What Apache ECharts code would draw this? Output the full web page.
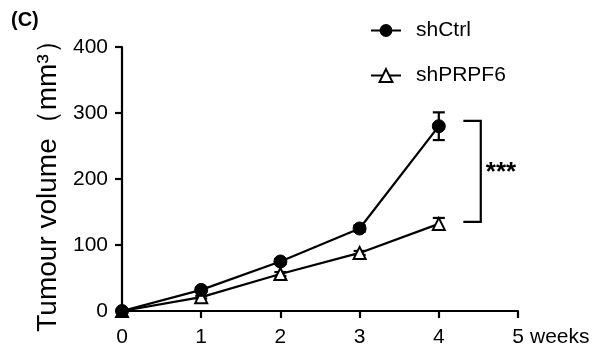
<!DOCTYPE html>
<html>
<head>
<meta charset="utf-8">
<script src="https://cdn.jsdelivr.net/npm/echarts@6/dist/echarts.min.js"></script>
<style>
html, body { margin: 0; padding: 0; background: #fff; }
#chart1 { width: 593px; height: 353px; }
</style>
</head>
<body>
<div id="chart1"></div>
<script>
// data
var weeks = [0, 1, 2, 3, 4];
var ctrlMean = [0, 32, 75, 125, 280];
var ctrlErr = [0, 3, 4, 5, 21];
var prpfMean = [0, 21, 56, 88, 132];
var prpfErr = [0, 2, 3, 3, 9];
var yTicks = [0, 100, 200, 300, 400];
var xTicks = [0, 1, 2, 3, 4, 5];
// significance bracket: x left, x right, y top, y bottom
var bracket = [4.31, 4.53, 288, 135];

var font = '"Liberation Sans", Arial, sans-serif';

function pairs(xs, ys) {
    return xs.map(function (x, i) { return [x, ys[i]]; });
}
function errData(xs, ys, es) {
    return xs.map(function (x, i) { return [x, ys[i] - es[i], ys[i] + es[i]]; });
}

function renderErr(params, api) {
    var lo = api.coord([api.value(0), api.value(1)]);
    var hi = api.coord([api.value(0), api.value(2)]);
    var w = 6;
    var st = { stroke: '#000', lineWidth: 2.2 };
    return {
        type: 'group',
        children: [
            { type: 'line', shape: { x1: hi[0], y1: hi[1], x2: lo[0], y2: lo[1] }, style: st },
            { type: 'line', shape: { x1: hi[0] - w, y1: hi[1], x2: hi[0] + w, y2: hi[1] }, style: st },
            { type: 'line', shape: { x1: lo[0] - w, y1: lo[1], x2: lo[0] + w, y2: lo[1] }, style: st }
        ]
    };
}

function renderBracket(params, api) {
    var a = api.coord([api.value(0), api.value(2)]);
    var b = api.coord([api.value(1), api.value(3)]);
    return {
        type: 'group',
        children: [
            {
                type: 'polyline',
                shape: { points: [[a[0], a[1]], [b[0], a[1]], [b[0], b[1]], [a[0], b[1]]] },
                style: { stroke: '#000', lineWidth: 2.2, fill: null }
            },
            {
                type: 'text',
                x: b[0] + 5,
                y: (a[1] + b[1]) / 2 + 1,
                style: { text: '***', fill: '#000', font: 'bold 26px ' + font, verticalAlign: 'middle', align: 'left' }
            }
        ]
    };
}

var chartDom = document.getElementById('chart1');
var myChart = echarts.init(chartDom);
var option;

option = {
    animation: false,
    backgroundColor: '#fff',
    title: {
        text: '(C)',
        left: 6,
        top: 5,
        textStyle: { fontFamily: font, fontWeight: 'bold', fontSize: 20, color: '#000' }
    },
    legend: {
        orient: 'vertical',
        left: 365,
        top: 15,
        itemWidth: 30,
        itemHeight: 16,
        itemGap: 24,
        textStyle: { fontFamily: font, fontSize: 21, color: '#000', padding: [0, 0, 0, 10] },
        data: ['shCtrl', 'shPRPF6']
    },
    grid: { left: 122, right: 75, top: 47, bottom: 42 },
    xAxis: {
        type: 'value',
        min: xTicks[0],
        max: xTicks[xTicks.length - 1],
        interval: 1,
        name: 'weeks',
        nameLocation: 'end',
        nameGap: 12,
        nameTextStyle: { fontFamily: font, fontSize: 21, color: '#000', verticalAlign: 'top', padding: [16, 0, 0, 0] },
        axisLine: { lineStyle: { color: '#000', width: 2.2 } },
        axisTick: { show: true, length: 7, lineStyle: { color: '#000', width: 2.2 } },
        axisLabel: { fontFamily: font, fontSize: 21, color: '#000', margin: 16 },
        splitLine: { show: false }
    },
    yAxis: {
        type: 'value',
        min: yTicks[0],
        max: yTicks[yTicks.length - 1],
        interval: 100,
        name: 'Tumour volume（mm³）',
        nameLocation: 'middle',
        nameGap: 60,
        nameTextStyle: { fontFamily: font, fontSize: 28, color: '#000' },
        axisLine: { show: true, lineStyle: { color: '#000', width: 2.2 } },
        axisTick: { show: true, length: 7, lineStyle: { color: '#000', width: 2.2 } },
        axisLabel: { fontFamily: font, fontSize: 21, color: '#000', margin: 14 },
        splitLine: { show: false }
    },
    series: [
        {
            type: 'custom',
            renderItem: renderErr,
            data: errData(weeks, ctrlMean, ctrlErr),
            z: 1,
            silent: true
        },
        {
            type: 'custom',
            renderItem: renderErr,
            data: errData(weeks, prpfMean, prpfErr),
            z: 1,
            silent: true
        },
        {
            name: 'shCtrl',
            type: 'line',
            data: pairs(weeks, ctrlMean),
            symbol: 'circle',
            symbolSize: 13,
            lineStyle: { color: '#000', width: 2.2 },
            itemStyle: { color: '#000', borderColor: '#000' },
            z: 3
        },
        {
            name: 'shPRPF6',
            type: 'line',
            data: pairs(weeks, prpfMean),
            symbol: 'triangle',
            symbolSize: 12,
            showAllSymbol: true,
            lineStyle: { color: '#000', width: 2.2 },
            itemStyle: { color: '#fff', borderColor: '#000', borderWidth: 2 },
            z: 2
        },
        {
            type: 'custom',
            renderItem: renderBracket,
            data: [bracket],
            z: 1,
            silent: true
        }
    ]
};

option && myChart.setOption(option);
</script>
</body>
</html>
